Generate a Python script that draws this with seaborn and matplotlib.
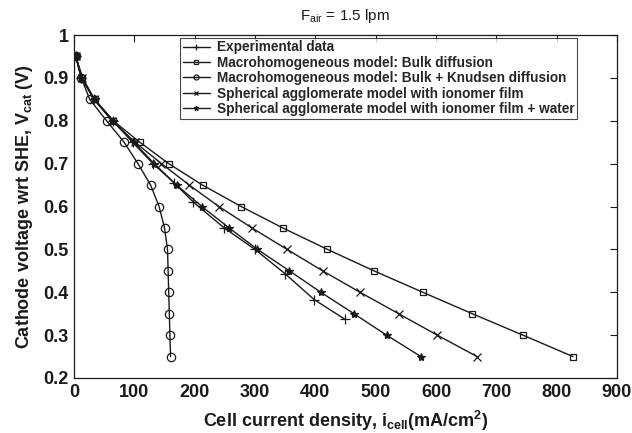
import matplotlib
matplotlib.use("Agg")
import matplotlib.pyplot as plt
import seaborn as sns
import pandas as pd

sns.set_theme(style="white")
plt.rcParams['font.family'] = ['Liberation Sans', 'DejaVu Sans']
plt.rcParams['mathtext.fontset'] = 'custom'
plt.rcParams['mathtext.rm'] = 'Liberation Sans'
plt.rcParams['mathtext.bf'] = 'Liberation Sans:bold'
plt.rcParams['mathtext.it'] = 'Liberation Sans:italic'

# Data (current density mA/cm2, cathode voltage V)
exp_i = [3, 12, 33, 64, 97, 131, 166, 198, 249, 300, 350, 398, 449]
exp_v = [0.95, 0.90, 0.85, 0.80, 0.75, 0.70, 0.655, 0.61, 0.55, 0.50, 0.443, 0.383, 0.337]

volts = [0.95, 0.90, 0.85, 0.80, 0.75, 0.70, 0.65, 0.60, 0.55, 0.50, 0.45, 0.40, 0.35, 0.30, 0.25]
bulk_i = [3, 14, 34, 65, 109, 157, 213, 277, 346, 420, 497, 578, 660, 744, 827]
knud_i = [3, 12, 26, 54, 83, 106, 127, 141, 150, 155, 156, 157, 158, 159, 160]
agg_i = [3, 14, 33, 63, 101, 145, 191, 240, 295, 353, 412, 474, 538, 602, 668]
aggw_i = [3, 12, 34, 65, 99, 133, 170, 212, 257, 304, 357, 409, 464, 518, 575]

labels = ["Experimental data",
          "Macrohomogeneous model: Bulk diffusion",
          "Macrohomogeneous model: Bulk + Knudsen diffusion",
          "Spherical agglomerate model with ionomer film",
          "Spherical agglomerate model with ionomer film + water"]

series = [
    (exp_i, exp_v, '+', 'k', 7),
    (bulk_i, volts, 's', 'none', 4.5),
    (knud_i, volts, 'o', 'none', 6),
    (agg_i, volts, 'x', 'k', 5.5),
    (aggw_i, volts, '*', 'k', 6),
]

fig = plt.figure(figsize=(6.32, 4.33), dpi=100)
ax = fig.add_axes([74/632, 1 - 378/433, 543/632, 343/433])

for (xi, yv, m, fc, ms), lab in zip(series, labels):
    df = pd.DataFrame({'i': xi, 'v': yv})
    sns.lineplot(data=df, x='i', y='v', ax=ax, color='k', lw=1.0, marker=m,
                 markersize=ms, markerfacecolor=fc, markeredgecolor='k',
                 markeredgewidth=0.9, sort=False, label=lab, estimator=None)

ax.set_xlim(0, 900)
ax.set_ylim(0.2, 1.0)
ax.set_xticks(range(0, 901, 100))
ax.set_yticks([0.2, 0.3, 0.4, 0.5, 0.6, 0.7, 0.8, 0.9, 1.0])
ax.set_yticklabels(['0.2', '0.3', '0.4', '0.5', '0.6', '0.7', '0.8', '0.9', '1'])
ax.tick_params(direction='in', top=True, right=True, length=5, width=0.8,
               labelsize=13, colors='k', pad=4)
for lbl in ax.get_xticklabels() + ax.get_yticklabels():
    lbl.set_fontweight('bold')
for s in ax.spines.values():
    s.set_color('k')
    s.set_linewidth(0.9)

ax.set_xlabel(r"Cell current density, i$_{\mathbf{cell}}$(mA/cm$^{\mathbf{2}}$)",
              fontsize=13, fontweight='bold', color='k', labelpad=6)
ax.set_ylabel(r"Cathode voltage wrt SHE, V$_{\mathbf{cat}}$ (V)",
              fontsize=13, fontweight='bold', color='k', labelpad=6)
ax.set_title(r"F$_{\mathrm{air}}$ = 1.5 lpm", fontsize=11, color='k', pad=11)

leg = ax.legend(loc='upper left', bbox_to_anchor=(106/543, 0.992), frameon=True,
                fancybox=False, edgecolor='k', prop={'weight': 'bold', 'size': 9.8},
                handlelength=2.0, handletextpad=0.5, borderpad=0.2,
                labelspacing=0.1, borderaxespad=0.0, markerscale=0.6)
leg.get_frame().set_linewidth(0.8)

fig.savefig("out.png", dpi=100)
